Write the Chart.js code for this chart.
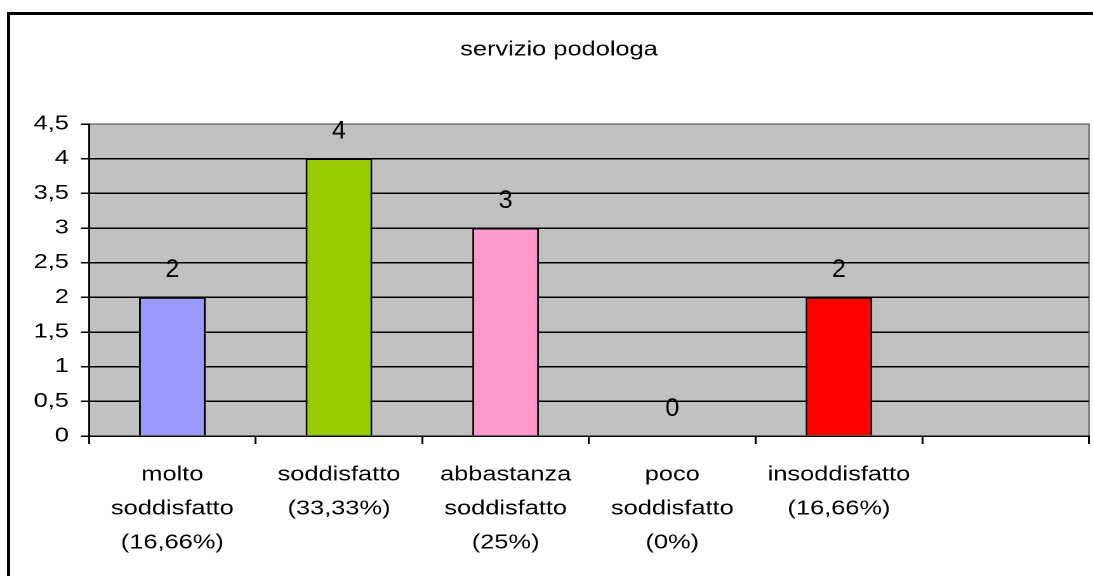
<!DOCTYPE html>
<html>
<head>
<meta charset="utf-8">
<title>servizio podologa</title>
<script src="https://cdn.jsdelivr.net/npm/chart.js@4/dist/chart.umd.min.js"></script>
<style>
  body { margin: 0; background: #ffffff; overflow: hidden; }
  #frame {
    position: absolute; left: 7px; top: 12px; width: 2000px; height: 2000px;
    border-left: 3px solid #000000; border-top: 3px solid #000000;
  }
  /* the reference is stretched sideways, so the whole chart is drawn narrow and widened */
  #chartBox {
    position: absolute; left: 0; top: 0; width: 861px; height: 576px;
    transform: scaleX(1.26945); transform-origin: 0 0;
  }
  #chartCanvas { display: block; }
</style>
</head>
<body>
<div id="frame"></div>
<div id="chartBox">
  <canvas id="chartCanvas" width="861" height="576"></canvas>
</div>
<script>
/**
 * Chart data.
 */
const CHART_TITLE = "servizio podologa";

const CATEGORY_LIST = [
  ["molto", "soddisfatto", "(16,66%)"],
  ["soddisfatto", "(33,33%)"],
  ["abbastanza", "soddisfatto", "(25%)"],
  ["poco", "soddisfatto", "(0%)"],
  ["insoddisfatto", "(16,66%)"],
  ""
];

const ANSWER_COUNT_LIST = [2, 4, 3, 0, 2, null];

const BAR_COLOR_LIST = ["#9999FF", "#99CC00", "#FF99CC", "#FFFF99", "#FF0000", "#C0C0C0"];

const Y_TICK_LIST = [0, 0.5, 1, 1.5, 2, 2.5, 3, 3.5, 4, 4.5];

const FONT_FAMILY = "'Liberation Sans', Arial, sans-serif";

// Horizontal stretch applied by CSS (value labels are drawn un-stretched)
const X_STRETCH = 1.26945;

/**
 * Grey plot area with grey top & right edges.
 */
const plotAreaPlugin = {
  id: "plotArea",
  beforeDraw(chart) {
    const CTX = chart.ctx;
    const AREA = chart.chartArea;
    CTX.save();
    CTX.fillStyle = "#C0C0C0";
    CTX.fillRect(AREA.left, AREA.top, AREA.right - AREA.left, AREA.bottom - AREA.top);
    CTX.strokeStyle = "#808080";
    CTX.lineWidth = 1.5;
    CTX.beginPath();
    CTX.moveTo(AREA.left, AREA.top);
    CTX.lineTo(AREA.right, AREA.top);
    CTX.lineTo(AREA.right, AREA.bottom);
    CTX.stroke();
    CTX.restore();
  }
};

/**
 * Value labels above every bar.
 */
const valueLabelPlugin = {
  id: "valueLabel",
  afterDatasetsDraw(chart) {
    const CTX = chart.ctx;
    const META = chart.getDatasetMeta(0);
    META.data.forEach((bar, index) => {
      const VALUE = ANSWER_COUNT_LIST[index];
      if (VALUE === null || typeof VALUE === "undefined") {
        return;
      }
      CTX.save();
      CTX.translate(bar.x, bar.y - 27);
      CTX.scale(1 / X_STRETCH, 1);
      CTX.font = "25px " + FONT_FAMILY;
      CTX.fillStyle = "#000000";
      CTX.textAlign = "center";
      CTX.textBaseline = "middle";
      CTX.fillText(String(VALUE), 0, 0);
      CTX.restore();
    });
  }
};

const CTX = document.getElementById("chartCanvas").getContext("2d");

new Chart(CTX, {
  type: "bar",
  data: {
    labels: CATEGORY_LIST,
    datasets: [{
      data: ANSWER_COUNT_LIST,
      backgroundColor: BAR_COLOR_LIST,
      borderColor: "#000000",
      borderWidth: 1.5,
      barPercentage: 0.4,
      categoryPercentage: 1
    }]
  },
  options: {
    responsive: false,
    animation: false,
    devicePixelRatio: 2,
    layout: {
      padding: { left: 22.8, right: 3.2, top: 0, bottom: 0 }
    },
    plugins: {
      legend: { display: false },
      tooltip: { enabled: false },
      title: {
        display: true,
        text: CHART_TITLE,
        color: "#000000",
        font: { family: FONT_FAMILY, size: 20, weight: "normal", lineHeight: 1.2 },
        padding: { top: 38, bottom: 62 }
      }
    },
    scales: {
      x: {
        grid: {
          offset: true,
          drawOnChartArea: false,
          color: "#000000",
          tickColor: "#000000",
          tickLength: 8,
          lineWidth: 1.5
        },
        border: { color: "#000000", width: 1.5 },
        ticks: {
          color: "#000000",
          maxRotation: 0,
          autoSkip: false,
          padding: 14,
          font: { family: FONT_FAMILY, size: 20, lineHeight: "34px" }
        },
        afterFit(scale) {
          scale.height = 140;
        }
      },
      y: {
        min: 0,
        max: 4.5,
        grid: {
          color: (context) => (context.tick && context.tick.value === 4.5 ? "#808080" : "#000000"),
          tickColor: "#000000",
          tickLength: 6.3,
          lineWidth: 1.5
        },
        border: { color: "#000000", width: 1.5 },
        ticks: {
          color: "#000000",
          padding: 9.5,
          font: { family: FONT_FAMILY, size: 20 },
          callback: (value) => String(value).replace(".", ",")
        },
        afterBuildTicks(scale) {
          scale.ticks = Y_TICK_LIST.map((value) => ({ value: value }));
        },
        afterFit(scale) {
          scale.width = 47.3;
        }
      }
    }
  },
  plugins: [plotAreaPlugin, valueLabelPlugin]
});
</script>
</body>
</html>
